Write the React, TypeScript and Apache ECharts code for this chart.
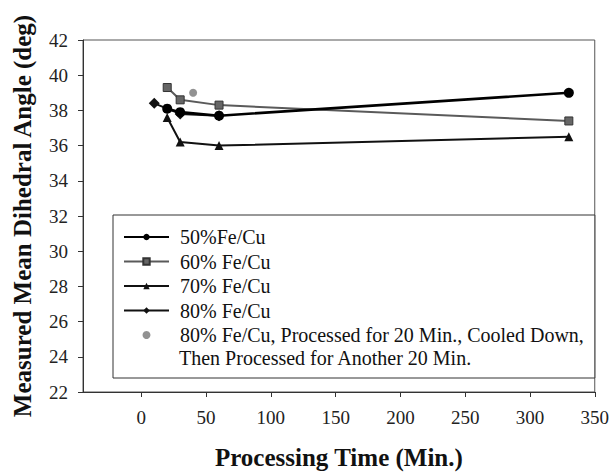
import React, { useEffect, useRef } from "react";
import * as echarts from "echarts";

const series50: [number, number][] = [[20, 38.1], [30, 37.9], [60, 37.7], [330, 39.0]];
const series60: [number, number][] = [[20, 39.3], [30, 38.6], [60, 38.3], [330, 37.4]];
const series70: [number, number][] = [[20, 37.6], [30, 36.2], [60, 36.0], [330, 36.5]];
const series80: [number, number][] = [[10, 38.4], [30, 37.8], [60, 37.7]];
const series80b: [number, number][] = [[40, 39.0]];
const xTicks = [0, 50, 100, 150, 200, 250, 300, 350];
const legendNames = [
  "50%Fe/Cu",
  "60% Fe/Cu",
  "70% Fe/Cu",
  "80% Fe/Cu",
  "80% Fe/Cu, Processed for 20 Min., Cooled Down,",
];
const legendSecondLine = "Then Processed for Another 20 Min.";

const FONT = "'Liberation Serif', 'Times New Roman', serif";

export default function App() {
  const ref = useRef<HTMLDivElement>(null);
  useEffect(() => {
    if (!ref.current) return;
    const chart = echarts.init(ref.current, undefined, { renderer: "svg" });
    chart.setOption({
      animation: false,
      backgroundColor: "#fff",
      textStyle: { fontFamily: FONT },
      grid: {
        left: 83,
        right: 17,
        top: 40,
        bottom: 79,
        show: true,
        borderColor: "#555",
        borderWidth: 1,
        containLabel: false,
      },
      xAxis: {
        type: "value",
        min: -45,
        max: 350,
        name: "Processing Time (Min.)",
        nameLocation: "middle",
        nameGap: 53,
        nameTextStyle: { fontFamily: FONT, fontSize: 25, fontWeight: "bold", color: "#111" },
        axisLine: { show: true, onZero: false, lineStyle: { color: "#333", width: 1 } },
        axisTick: { show: true, customValues: xTicks, length: 5, lineStyle: { color: "#333" } },
        axisLabel: { customValues: xTicks, margin: 16, fontFamily: FONT, fontSize: 19, color: "#222" },
        splitLine: { show: false },
      },
      yAxis: {
        type: "value",
        min: 22,
        max: 42,
        interval: 2,
        name: "Measured Mean Dihedral Angle (deg)",
        nameLocation: "middle",
        nameGap: 48,
        nameTextStyle: { fontFamily: FONT, fontSize: 25, fontWeight: "bold", color: "#111" },
        axisLine: { show: true, onZero: false, lineStyle: { color: "#333", width: 1 } },
        axisTick: { show: true, length: 5, lineStyle: { color: "#333" } },
        axisLabel: { margin: 15, fontFamily: FONT, fontSize: 19, color: "#222" },
        splitLine: { show: false },
      },
      legend: {
        orient: "vertical",
        left: 113,
        top: 215,
        data: legendNames,
        itemWidth: 45,
        itemHeight: 8,
        itemGap: 2.5,
        padding: [11, 11, 32, 10],
        borderColor: "#333",
        borderWidth: 1,
        backgroundColor: "#fff",
        textStyle: { fontFamily: FONT, fontSize: 20, color: "#111", lineHeight: 22, padding: [0, 0, 0, 6] },
      },
      graphic: [
        {
          type: "text",
          left: 179,
          top: 348,
          z: 100,
          style: { text: legendSecondLine, font: `20px ${FONT}`, fill: "#111" },
        },
      ],
      series: [
        {
          name: legendNames[0],
          type: "line",
          data: series50,
          symbol: "circle",
          symbolSize: 10,
          lineStyle: { color: "#000", width: 2.6 },
          itemStyle: { color: "#000" },
          z: 5,
        },
        {
          name: legendNames[1],
          type: "line",
          data: series60,
          symbol: "rect",
          symbolSize: 8,
          lineStyle: { color: "#5a5a5a", width: 2 },
          itemStyle: { color: "#666", borderColor: "#333", borderWidth: 1 },
          z: 4,
        },
        {
          name: legendNames[2],
          type: "line",
          data: series70,
          symbol: "triangle",
          symbolSize: 9,
          lineStyle: { color: "#111", width: 2 },
          itemStyle: { color: "#111" },
          z: 3,
        },
        {
          name: legendNames[3],
          type: "line",
          data: series80,
          symbol: "diamond",
          symbolSize: 11,
          lineStyle: { color: "#111", width: 2 },
          itemStyle: { color: "#111" },
          z: 3,
        },
        {
          name: legendNames[4],
          type: "scatter",
          data: series80b,
          symbol: "circle",
          symbolSize: 8,
          itemStyle: { color: "#777" },
        },
      ],
    });
    return () => chart.dispose();
  }, []);
  return <div ref={ref} style={{ width: 612, height: 475, position: "absolute", left: 0, top: 0 }} />;
}
